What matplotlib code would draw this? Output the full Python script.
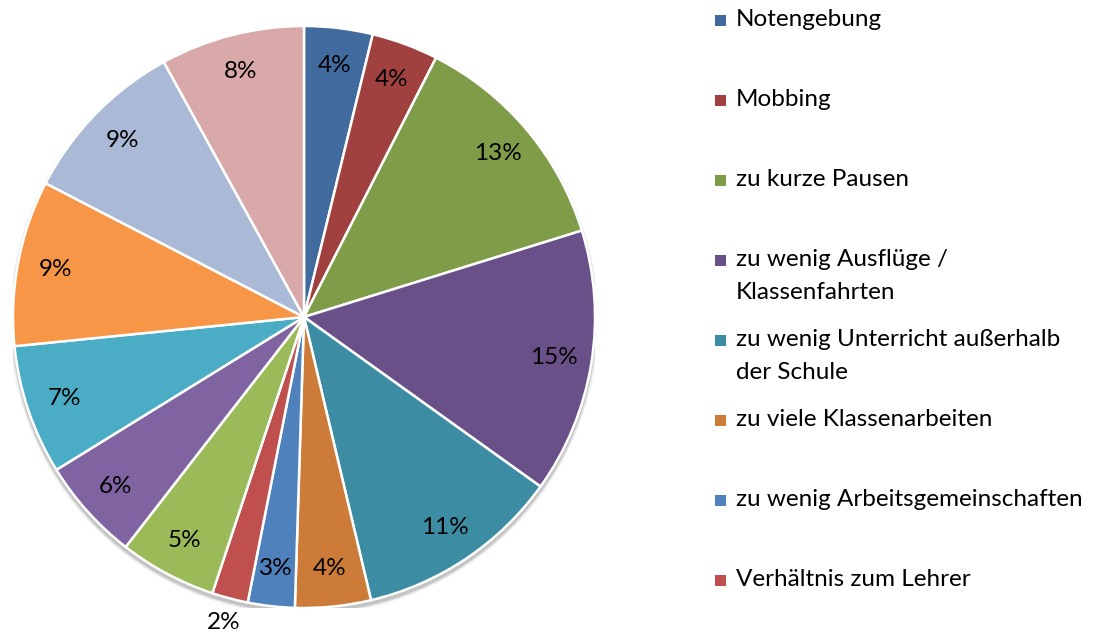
import numpy as np
import matplotlib.pyplot as plt
from matplotlib.patches import Circle, Rectangle

plt.rcParams['font.family'] = ['Lato', 'DejaVu Sans']

# data (shares in %; labels show rounded values)
labels = [
    "Notengebung", "Mobbing", "zu kurze Pausen",
    "zu wenig Ausflüge /\nKlassenfahrten",
    "zu wenig Unterricht außerhalb\nder Schule",
    "zu viele Klassenarbeiten", "zu wenig Arbeitsgemeinschaften",
    "Verhältnis zum Lehrer",
    "", "", "", "", "", "",
]
shares = [3.8, 3.7, 12.7, 14.7, 11.4, 4.2, 2.6, 2.0, 5.4, 5.7, 7.2, 9.2, 9.4, 8.0]
colors = [
    "#416A9E", "#A04140", "#7F9C48", "#6A5088", "#3C8DA3", "#CC7B38",
    "#4F81BD", "#C0504D", "#9BBB59", "#8064A2", "#4BACC6", "#F79646",
    "#AAB9D6", "#D9A8A8",
]
n_legend = 8

fig = plt.figure(figsize=(10.98, 6.36), dpi=100)
ax = fig.add_axes([13 / 1098, 28 / 636, 582 / 1098, 582 / 636])
ax.set_aspect("equal")
ax.axis("off")

# soft shadow under the pie
for k, a in zip([1.012, 1.008, 1.004], [0.05, 0.08, 0.12]):
    ax.add_patch(Circle((0.0, -0.012), k, color="#000000", alpha=a, lw=0, zorder=0))

wedges, texts = ax.pie(
    shares, colors=colors, startangle=90, counterclock=False,
    wedgeprops=dict(edgecolor="white", linewidth=1.8), radius=1.0,
)
for w in wedges:
    w.set_zorder(2)

# percentage labels
for w, v in zip(wedges, shares):
    mid = np.deg2rad((w.theta1 + w.theta2) / 2)
    dist = 1.085 if v <= 2 else 0.87
    ax.text(dist * np.cos(mid), dist * np.sin(mid), f"{v:.0f}%",
            ha="center", va="center", fontsize=17.5, color="black", zorder=3,
            clip_on=False)

ax.set_xlim(-1.0, 1.0)
ax.set_ylim(-1.0, 1.0)

# legend (first entries only, as in the original)
y0 = 20
for i in range(n_legend):
    y = y0 + 80 * i
    fig.patches.append(Rectangle((715 / 1098, 1 - (y + 6) / 636), 11 / 1098, 11 / 636,
                                 transform=fig.transFigure, facecolor=colors[i],
                                 edgecolor="none"))
    fig.text(736 / 1098, 1 - (y - 11) / 636, labels[i], ha="left", va="top",
             fontsize=17.5, color="black", linespacing=1.72)

fig.savefig("out.png", dpi=100, facecolor="white")
